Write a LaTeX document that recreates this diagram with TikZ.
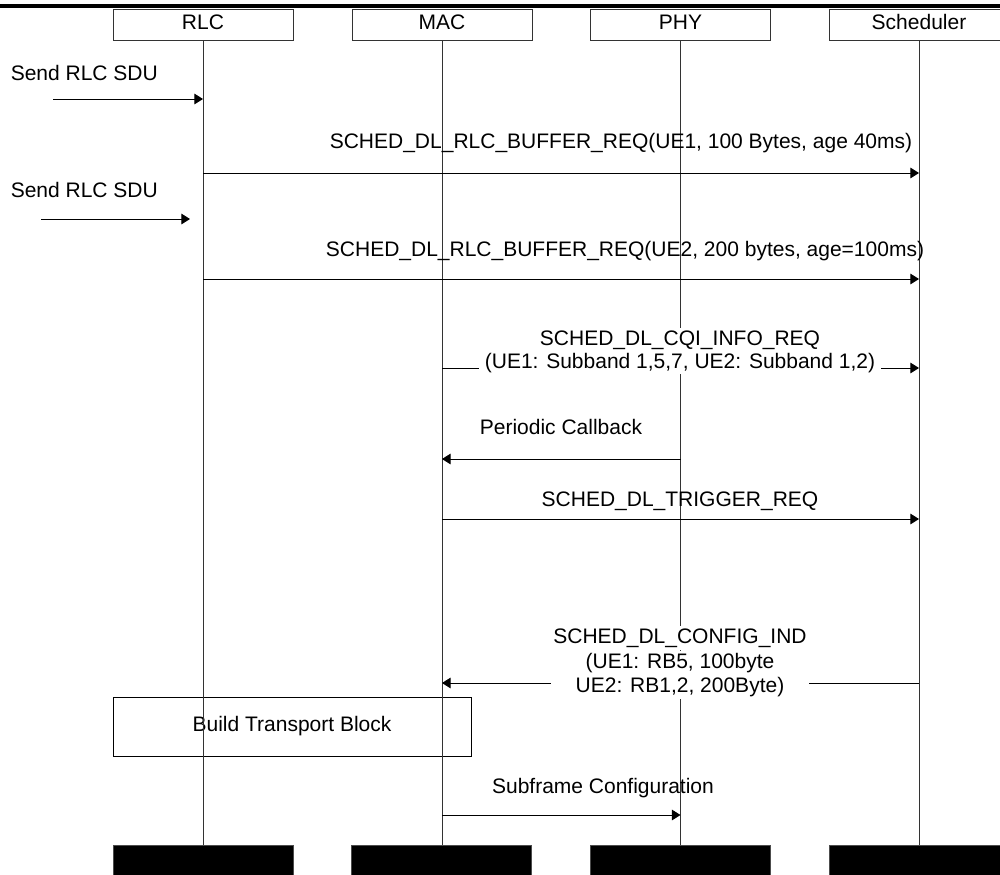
\documentclass[tikz,border=0pt]{standalone}
\usepackage{fontspec}
\setmainfont{Liberation Sans}
\usetikzlibrary{arrows.meta}
\begin{document}
\begin{tikzpicture}[x=0.75pt,y=-0.75pt,
  every node/.style={font=\fontsize{15.75}{18}\selectfont},
  actor/.style={draw=black!80, line width=0.75pt, minimum width=135pt, minimum height=23.25pt, inner sep=0pt, text height=11.5pt, text depth=3.5pt},
  bar/.style={fill=black, draw=black!70, minimum width=135pt, minimum height=26.25pt, inner sep=0pt},
  lifeline/.style={line width=0.75pt, draw=black!80},
  msg/.style={line width=0.75pt, draw=black, -{Triangle[length=6.5pt,width=8pt]}},
  lbl/.style={inner sep=0pt, anchor=base, text height=11.5pt, text depth=3.5pt},
  cqilbl/.style={lbl, fill=white, minimum width=301pt, inner ysep=1.2pt},
  cfglbl/.style={lbl, fill=white, minimum width=193pt, inner ysep=1.7pt},
  procbox/.style={draw=black, line width=0.75pt, minimum width=268.5pt, minimum height=44.25pt, inner sep=0pt, text height=11.5pt, text depth=3.5pt},
]
\useasboundingbox (0,0) rectangle (1000,875);
\fill[black] (0,3.5) rectangle (1000,7.5);

% actors
\node[actor] (rlc) at (203,24.5) {RLC};
\node[actor] (mac) at (442,24.5) {MAC};
\node[actor] (phy) at (680.5,24.5) {PHY};
\node[actor] (sch) at (919,24.5) {Scheduler};

% end bars
\node[bar] (rlcend) at (203,862.5) {};
\node[bar] (macend) at (441.5,862.5) {};
\node[bar] (phyend) at (680.5,862.5) {};
\node[bar] (schend) at (919,862.5) {};

% process box
\node[procbox] (build) at (292,726.5) {Build Transport Block};

% lifelines
\draw[lifeline] (rlc.south) -- (rlcend.north);
\draw[lifeline] (mac.south) -- (mac.south |- macend.north);
\draw[lifeline] (phy.south) -- (phyend.north);
\draw[lifeline] (sch.south) -- (schend.north);

% message end points
\coordinate (s1) at (53,99);     \coordinate (r1) at (203,99);
\coordinate (r2) at (203,173);   \coordinate (k2) at (919,173);
\coordinate (s3) at (41,219);    \coordinate (r3) at (190,219);
\coordinate (r4) at (203,279);   \coordinate (k4) at (919,279);
\coordinate (m5) at (442,368);   \coordinate (k5) at (919,368);
\coordinate (p6) at (680.5,459); \coordinate (m6) at (442,459);
\coordinate (m7) at (442,519);   \coordinate (k7) at (919,519);
\coordinate (k8) at (919,683);   \coordinate (m8) at (442,683);
\coordinate (m9) at (442,815);   \coordinate (p9) at (680.5,815);

% messages
\draw[msg] (s1) -- (r1);
\draw[msg] (r2) -- (k2);
\draw[msg] (s3) -- (r3);
\draw[msg] (r4) -- (k4);
\draw[msg] (m5) -- (k5);
\draw[msg] (p6) -- (m6);
\draw[msg] (m7) -- (k7);
\draw[msg] (k8) -- (m8);
\draw[msg] (m9) -- (p9);

% labels
\node[lbl, anchor=base west] (l1) at (10.5,80) {Send RLC SDU};
\node[lbl] (l2) at (621,148.5) {SCHED\_DL\_RLC\_BUFFER\_REQ(UE1, 100 Bytes, age 40ms)};
\node[lbl, anchor=base west] (l3) at (10.5,197.5) {Send RLC SDU};
\node[lbl] (l4) at (625,256.5) {SCHED\_DL\_RLC\_BUFFER\_REQ(UE2, 200 bytes, age=100ms)};
\node[cqilbl] (l5a) at (680,345) {SCHED\_DL\_CQI\_INFO\_REQ};
\node[cqilbl] (l5b) at (680,368) {(UE1: Subband 1,5,7, UE2: Subband 1,2)};
\node[lbl] (l6) at (561,434.5) {Periodic Callback};
\node[lbl] (l7) at (680,506) {SCHED\_DL\_TRIGGER\_REQ};
\node[cfglbl] (l8a) at (680,643.5) {SCHED\_DL\_CONFIG\_IND};
\node[cfglbl] (l8b) at (680,668.5) {(UE1: RB5, 100byte};
\node[cfglbl] (l8c) at (680,692.5) {UE2: RB1,2, 200Byte)};
\node[lbl] (l9) at (603,793.5) {Subframe Configuration};
\end{tikzpicture}
\end{document}
